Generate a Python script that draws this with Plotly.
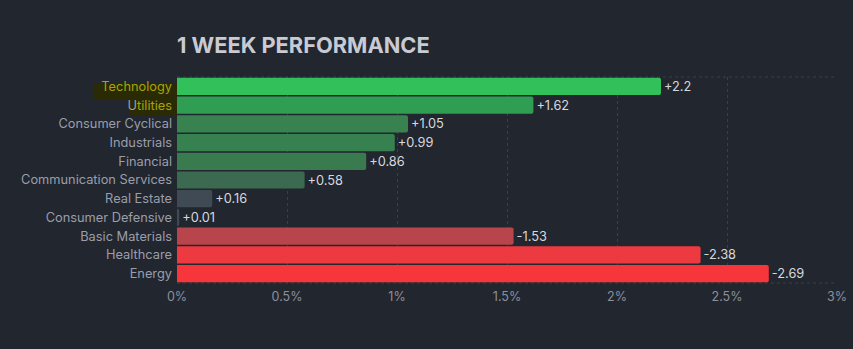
import plotly.graph_objects as go

categories = ["Technology", "Utilities", "Consumer Cyclical", "Industrials", "Financial",
              "Communication Services", "Real Estate", "Consumer Defensive",
              "Basic Materials", "Healthcare", "Energy"]
values = [2.2, 1.62, 1.05, 0.99, 0.86, 0.58, 0.16, 0.01, -1.53, -2.38, -2.69]
colors = ["#31c05a", "#2f9d52", "#37824f", "#37804f", "#397a4f", "#3b6a50",
          "#3f4a55", "#3f4a55", "#b8454b", "#ed3a40", "#f6363b"]
tick_vals = [0, 0.5, 1, 1.5, 2, 2.5, 3]
tick_text = ["0%", "0.5%", "1%", "1.5%", "2%", "2.5%", "3%"]

labels = [f"{v:+g}" for v in values]
lengths = [abs(v) for v in values]

fig = go.Figure(go.Bar(
    y=categories, x=lengths, orientation="h",
    marker=dict(color=colors, line=dict(width=0)),
    text=labels, textposition="outside", cliponaxis=False,
    outsidetextfont=dict(color="#d6d8de", size=12.8, family="Inter"),
))

W, H = 853, 349
L, R, T, B = 177, 16, 77, 66

fig.update_layout(
    width=W, height=H,
    margin=dict(l=L, r=R, t=T, b=B, autoexpand=False),
    paper_bgcolor="#22262f", plot_bgcolor="#22262f",
    bargap=0.08, barcornerradius=2,
    showlegend=False,
    font=dict(family="Inter", color="#9a9eab", size=12.5),
    title=dict(text="<b>1 WEEK PERFORMANCE</b>", x=L / W, xanchor="left",
               y=1 - 45 / H, yanchor="middle", yref="container",
               font=dict(size=21.8, color="#c9cbd3", family="Inter")),
    xaxis=dict(range=[0, 3], tickvals=tick_vals, ticktext=tick_text, automargin=False,
               showgrid=True, gridcolor="#3a3f4b", griddash="3px,3px", gridwidth=1,
               zeroline=False, showline=False, ticks="",
               tickfont=dict(color="#8c909c", size=12.5), ticklabelstandoff=4),
    yaxis=dict(autorange="reversed", showgrid=False, zeroline=False, ticks="", automargin=False,
               ticklabelstandoff=4, tickfont=dict(color="#9a9eab", size=12.8)),
)

fig.add_shape(type="line", xref="paper", yref="paper", x0=0, x1=1, y0=1, y1=1,
              line=dict(color="#3a3f4b", width=1, dash="3px,3px"), layer="below")
fig.add_shape(type="line", xref="paper", yref="paper", x0=0, x1=1, y0=0, y1=0,
              line=dict(color="#3a3f4b", width=1, dash="3px,3px"), layer="below")
# highlight behind first labels
PW, PH = W - L - R, H - T - B
fig.add_shape(type="rect", xref="paper", yref="paper",
              x0=-84 / PW, x1=0, y0=1 - 22 / PH, y1=1 - 6 / PH,
              fillcolor="#2a2a04", line=dict(width=0), layer="below")
fig.add_shape(type="rect", xref="paper", yref="paper",
              x0=-48 / PW, x1=0, y0=1 - 39 / PH, y1=1 - 22 / PH,
              fillcolor="#2a2a04", line=dict(width=0), layer="below")

fig.update_yaxes(tickmode="array", tickvals=categories,
                 ticktext=["<span style='color:#a5a50a'>Technology</span>",
                           "U<span style='color:#a5a50a'>tilities</span>"] + categories[2:])

fig.write_html("out.html")
